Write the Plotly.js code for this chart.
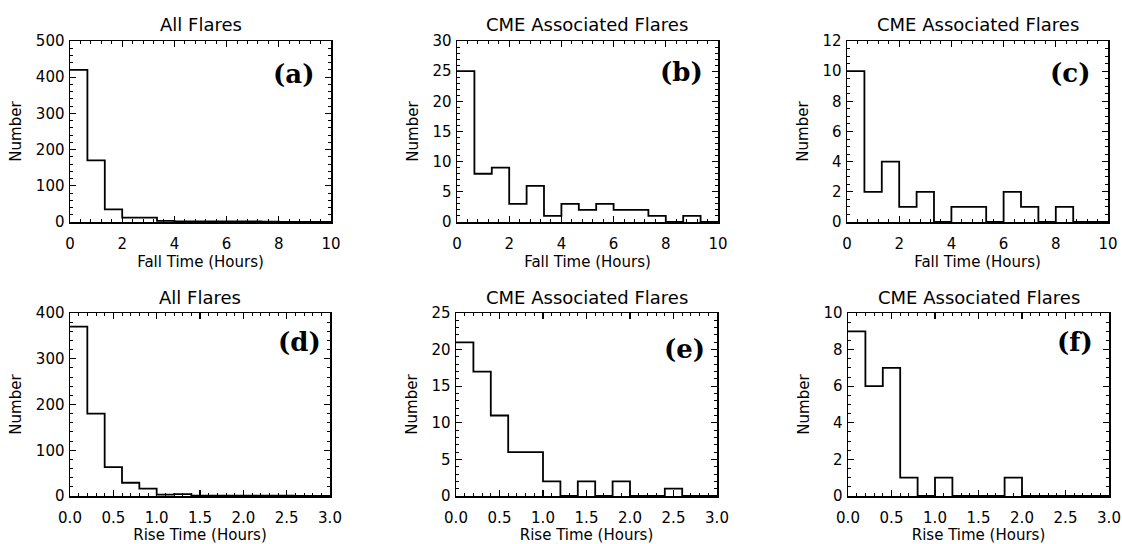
<!DOCTYPE html>
<html><head><meta charset="utf-8">
<script src="https://cdn.plot.ly/plotly-3.0.1.min.js"></script>
<style>html,body{margin:0;padding:0;background:#fff}</style>
</head><body><div id="chart" style="width:1122px;height:544px"></div>
<script>
// Bin edges (hours)
const fallEdges = [0, 0.667, 1.333, 2, 2.667, 3.333, 4, 4.667, 5.333, 6, 6.667, 7.333, 8, 8.667, 9.333, 10];
const riseEdges = [0, 0.2, 0.4, 0.6, 0.8, 1.0, 1.2, 1.4, 1.6, 1.8, 2.0, 2.2, 2.4, 2.6, 2.8, 3.0];

// Counts per bin
const fallAll = [420, 170, 35, 12, 12, 3, 2, 2, 2, 2, 2, 1, 0, 0, 0];
const fallCmeB = [25, 8, 9, 3, 6, 1, 3, 2, 3, 2, 2, 1, 0, 1, 0];
const fallCmeC = [10, 2, 4, 1, 2, 0, 1, 1, 0, 2, 1, 0, 1, 0, 0];
const riseAll = [370, 180, 63, 29, 16, 3, 4, 1, 1, 1, 1, 1, 1, 0, 0];
const riseCmeE = [21, 17, 11, 6, 6, 2, 0, 2, 0, 2, 0, 0, 1, 0, 0];
const riseCmeF = [9, 6, 7, 1, 0, 1, 0, 0, 0, 1, 0, 0, 0, 0, 0];

const panelTitles = ["All Flares", "CME Associated Flares", "CME Associated Flares",
                     "All Flares", "CME Associated Flares", "CME Associated Flares"];
const panelLabels = ["(a)", "(b)", "(c)", "(d)", "(e)", "(f)"];
const xTitles = ["Fall Time (Hours)", "Fall Time (Hours)", "Fall Time (Hours)",
                 "Rise Time (Hours)", "Rise Time (Hours)", "Rise Time (Hours)"];
const yTitle = "Number";

const W = 1122, H = 544;
// pixel boxes [left, right, top, bottom]
const boxes = [
  [70, 331, 41, 222], [457, 718, 41, 222], [847, 1108, 41, 222],
  [70, 330, 313, 496], [456, 717, 313, 496], [848, 1109, 313, 496]
];
const series = [fallAll, fallCmeB, fallCmeC, riseAll, riseCmeE, riseCmeF];
const edges = [fallEdges, fallEdges, fallEdges, riseEdges, riseEdges, riseEdges];
const yRanges = [[0, 500], [0, 30], [0, 12], [0, 400], [0, 25], [0, 10]];
const yDtick = [100, 5, 2, 100, 5, 2];
const yMinor = [20, 1, 0.5, 20, 1, 0.5];
const xRanges = [[0, 10], [0, 10], [0, 10], [0, 3], [0, 3], [0, 3]];
const xDtick = [2, 2, 2, 0.5, 0.5, 0.5];
const xMinor = [0.4, 0.4, 0.4, 0.1, 0.1, 0.1];
const xFmt = ["d", "d", "d", ".1f", ".1f", ".1f"];
// label offsets from plot right/top in px
const labOff = [[15, 33], [13, 31], [16, 32], [7, 29], [10, 36], [14, 29]];

const FONT = "DejaVu Sans, sans-serif";
const traces = [];
const layout = {
  width: W, height: H,
  margin: {l: 0, r: 0, t: 0, b: 0},
  paper_bgcolor: "#fff", plot_bgcolor: "#fff",
  showlegend: false,
  annotations: []
};

for (let i = 0; i < 6; i++) {
  const n = i === 0 ? "" : String(i + 1);
  const [l, r, t, b] = boxes[i];
  const ys = series[i].concat([series[i][series[i].length - 1]]);
  traces.push({
    type: "scatter", mode: "lines",
    x: edges[i], y: ys,
    line: {shape: "hv", color: "#000", width: 1.8},
    xaxis: "x" + n, yaxis: "y" + n,
    hoverinfo: "x+y"
  });
  const common = {
    showline: true, linecolor: "#000", linewidth: 1.5, mirror: "allticks",
    ticks: "inside", ticklen: 6, tickwidth: 1.3, tickcolor: "#000",
    showgrid: false, zeroline: false, fixedrange: true,
    tickfont: {family: FONT, size: 15, color: "#000"}
  };
  layout["xaxis" + n] = Object.assign({}, common, {
    domain: [l / W, r / W], anchor: "y" + n,
    range: xRanges[i], dtick: xDtick[i], tick0: 0, tickformat: xFmt[i],
    ticklabelstandoff: 7,
    minor: {ticks: "inside", ticklen: 3, tickwidth: 1, tickcolor: "#000", dtick: xMinor[i], tick0: 0},
    title: {text: xTitles[i], font: {family: FONT, size: 15, color: "#000"}, standoff: 1}
  });
  layout["yaxis" + n] = Object.assign({}, common, {
    domain: [1 - b / H, 1 - t / H], anchor: "x" + n,
    range: yRanges[i], dtick: yDtick[i], tick0: 0,
    ticklabelstandoff: 1,
    minor: {ticks: "inside", ticklen: 3, tickwidth: 1, tickcolor: "#000", dtick: yMinor[i], tick0: 0},
    title: {text: yTitle, font: {family: FONT, size: 15, color: "#000"}, standoff: 10}
  });
  layout.annotations.push({
    xref: "paper", yref: "paper",
    x: (l + r) / 2 / W, y: 1 - (t - 16) / H,
    text: panelTitles[i], showarrow: false,
    xanchor: "center", yanchor: "middle",
    font: {family: FONT, size: 18, color: "#000"}
  });
  layout.annotations.push({
    xref: "paper", yref: "paper",
    x: (r - labOff[i][0]) / W, y: 1 - (t + labOff[i][1]) / H,
    text: "<b>" + panelLabels[i] + "</b>", showarrow: false,
    xanchor: "right", yanchor: "middle",
    font: {family: "DejaVu Serif, serif", size: 26, color: "#000"}
  });
}

Plotly.newPlot("chart", traces, layout, {displayModeBar: false, staticPlot: true});
</script>
</body></html>
